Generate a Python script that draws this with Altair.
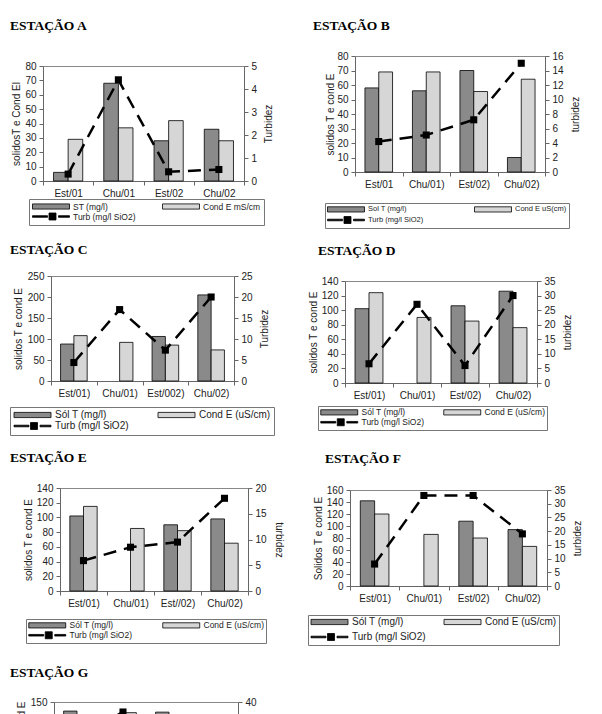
import altair as alt
import pandas as pd

# ---------------- data ----------------
CATS_A = ["Est/01", "Chu/01", "Est/02", "Chu/02"]
ST_A = [6, 68, 28, 36]
COND_A = [29, 37, 42, 28]
TURB_A = [0.3, 4.4, 0.4, 0.5]
LEG_A = ["ST (mg/l)", "Cond E mS/cm", "Turb (mg/l SiO2)"]

CATS_B = ["Est/01", "Chu/01)", "Est/02)", "Chu/02)"]
ST_B = [58, 56, 70, 10]
COND_B = [69, 69, 55.5, 64]
TURB_B = [4.2, 5.1, 7.2, 15]
LEG_B = ["Sol T (mg/l)", "Cond E uS(cm)", "Turb (mg/l SiO2)"]

CATS_C = ["Est/01)", "Chu/01)", "Est/002)", "Chu/02)"]
ST_C = [88, None, 106, 205]
COND_C = [108, 92, 85.5, 74]
TURB_C = [4.4, 17, 7.35, 20]
LEG_C = ["Sól T (mg/l)", "Cond E (uS/cm)", "Turb  (mg/l SiO2)"]

CATS_D = ["Est/01)", "Chu/01)", "Est/02)", "Chu/02)"]
ST_D = [102, None, 106, 126]
COND_D = [124, 90, 85, 76]
TURB_D = [6.6, 27, 6, 30]
LEG_D = ["Sól T (mg/l)", "Cond E (uS/cm)", "Turb (mg/l SiO2)"]

CATS_E = ["Est/01)", "Chu/01)", "Est//02)", "Chu/02)"]
ST_E = [102, None, 90, 98]
COND_E = [115, 85, 82, 65]
TURB_E = [5.9, 8.5, 9.5, 18]
LEG_E = ["Sól T (mg/l)", "Cond E (uS/cm)", "Turb (mg/l SiO2)"]

CATS_F = ["Est/01)", "Chu/01)", "Est/02)", "Chu/02)"]
ST_F = [142, None, 108, 94]
COND_F = [120, 86, 80, 66]
TURB_F = [8, 33, 33, 19]
LEG_F = ["Sól T (mg/l)", "Cond E (uS/cm)", "Turb (mg/l SiO2)"]

CATS_G = ["Est/01)", "Chu/01)", "Est/02)", "Chu/02)"]
ST_G = [133, None, 131, 100]
COND_G = [110, 130, 95, 85]
TURB_G = [22, 35, 25, 15]
LEG_G = ["Sól T (mg/l)", "Cond E (uS/cm)", "Turb (mg/l SiO2)"]

# ---------------- styles ----------------
ST_COLOR = "#8a8a8a"
COND_COLOR = "#d6d6d6"
FONT = "Liberation Sans"
SP_DATA = pd.DataFrame({"z": [0]})


def sym_paths(s):
    """legend swatch (37 px wide) and line symbol, in units of the symbol radius"""
    r = s / 2.0
    x0 = -r
    u = lambda v: f"{v / r:.3f}"
    bar = f"M{u(x0)},{u(-2.6)}H{u(x0 + 37)}V{u(2.6)}H{u(x0)}Z"
    ln = (f"M{u(x0)},{u(-0.8)}H{u(x0 + 15)}V{u(0.8)}H{u(x0)}Z"
          f"M{u(x0 + 16.5)},{u(-3.5)}H{u(x0 + 23.5)}V{u(3.5)}H{u(x0 + 16.5)}Z"
          f"M{u(x0 + 26)},{u(-0.8)}H{u(x0 + 37)}V{u(0.8)}H{u(x0 + 26)}Z")
    return bar, ln


def indep(ch):
    return ch.resolve_scale(fill="independent", xOffset="independent").resolve_legend(
        fill="independent")


def spacer(w, h):
    return alt.Chart(SP_DATA).mark_point(size=0, filled=True, strokeWidth=0, opacity=0).encode(
        x=alt.X("z:Q", axis=None, scale=alt.Scale(domain=[0, 1])),
        y=alt.Y("z:Q", axis=None, scale=alt.Scale(domain=[0, 1])),
    ).properties(width=w, height=h,
                 view=alt.ViewBackground(stroke="transparent", strokeWidth=0))


def panel(name, cats, st, cond, turb, labels, ytitle, y2title,
          ymax, ystep, y2max, y2step, lay):
    s1, s2, s3 = labels
    bars = pd.DataFrame({
        "cat": cats + cats,
        "serie": [s1] * len(cats) + [s2] * len(cats),
        "v": [float("nan") if x is None else x for x in st] + cond,
    })
    line = pd.DataFrame({"cat": cats, "turb": turb, "serie": [s3] * len(cats)})

    s = lay.get("s", 8)
    bar_path, line_path = sym_paths(s)
    fill_scale = alt.Scale(domain=[s1, s2, s3], range=[ST_COLOR, COND_COLOR, "black"])
    legend = alt.Legend(
        title=None, orient="none", legendX=lay["lx"], legendY=lay["ly"],
        columns=2, direction="horizontal",
        strokeColor="#777", fillColor="white", padding=lay.get("pad", 3),
        symbolType=alt.ExprRef(expr=f"datum.value == '{s3}' ? '{line_path}' : '{bar_path}'"),
        symbolSize=s * s, symbolStrokeColor="black", symbolStrokeWidth=0.8,
        symbolOpacity=1,
        labelFont=FONT, labelFontSize=lay["lfs"], labelColor="#222",
        labelOffset=40 - s, columnPadding=lay["cpad"], rowPadding=lay.get("rpad", 0),
        labelLimit=300,
    )

    xenc = alt.X(
        "cat:N", sort=cats,
        scale=alt.Scale(paddingInner=0, paddingOuter=0),
        axis=alt.Axis(title=None, labelAngle=0, tickBand="extent", tickSize=4,
                      labelPadding=3, labelFontSize=10, labelFont=FONT),
    )
    yaxis = alt.Axis(values=list(range(0, ymax + 1, ystep)), title=ytitle,
                     tickSize=4, labelPadding=3, titlePadding=lay.get("tp", 4),
                     titleFontSize=10, labelFontSize=10)
    ang = lay.get("ang", 270)
    y2axis = alt.Axis(orient="right", values=list(range(0, y2max + 1, y2step)),
                      title=y2title, titleAngle=ang,
                      titleBaseline="top" if ang == 270 else "bottom",
                      tickSize=4, labelPadding=3, titlePadding=lay.get("tp2", 7),
                      titleFontSize=10, labelFontSize=10)

    b = alt.Chart(bars).mark_bar(stroke="black", strokeWidth=0.8).encode(
        x=xenc,
        xOffset=alt.XOffset("serie:N", sort=[s1, s2],
                            scale=alt.Scale(paddingOuter=0.72, paddingInner=0)),
        y=alt.Y("v:Q", scale=alt.Scale(domain=[0, ymax], nice=False), axis=yaxis),
        fill=alt.Fill("serie:N", scale=fill_scale, legend=legend),
    )
    y2 = alt.Y("turb:Q", scale=alt.Scale(domain=[0, y2max], nice=False), axis=y2axis)
    ln = alt.Chart(line).mark_line(color="black", strokeWidth=2.5,
                                   strokeDash=[13, 8]).encode(x=xenc, y=y2)
    pts = alt.Chart(line).mark_point(shape="square", filled=True, size=50,
                                     opacity=1, strokeWidth=0).encode(
        x=xenc, y=y2,
        fill=alt.Fill("serie:N", scale=fill_scale, legend=legend),
    )
    p = alt.layer(b, alt.layer(ln, pts)).resolve_scale(y="independent").properties(
        width=lay["w"], height=lay["h"],
        title=alt.TitleParams(
            text=name, anchor="start", frame="group", dx=lay["dx"], offset=lay["off"],
            font="Liberation Serif", fontSize=13.5, fontWeight="bold", color="black",
        ),
    )
    # spacer in front: its width sets the horizontal place, its height the room below
    return indep(alt.hconcat(spacer(lay["sw"], lay["sh"]), p, spacing=0))


pA = panel("ESTAÇÃO A", CATS_A, ST_A, COND_A, TURB_A, LEG_A,
           "solidosT e Cond El", "Turbidez", 80, 10, 5, 1,
           dict(w=201, h=115, dx=-33, off=29, lx=-14, ly=133, lfs=8.5, cpad=24,
                pad=3, tp=3, sw=1, sh=176))
pC = panel("ESTAÇÃO C", CATS_C, ST_C, COND_C, TURB_C, LEG_C,
           "solidos T e cond E", "Turbidez", 250, 50, 25, 5,
           dict(w=183, h=105, dx=-41, off=14.5, lx=-41, ly=131, lfs=10, cpad=24,
                pad=3, tp=4, sw=1, sh=174))
pE = panel("ESTAÇÃO E", CATS_E, ST_E, COND_E, TURB_E, LEG_E,
           "solidos T e cond E", "turbidez", 140, 20, 20, 5,
           dict(w=188, h=103, dx=-50, off=18.5, lx=-34, ly=131, lfs=8.5, cpad=28,
                s=7, pad=2, ang=90, tp=3, sw=1, sh=176.5))
pG = panel("ESTAÇÃO G", CATS_G, ST_G, COND_G, TURB_G, LEG_G,
           "solidos T e cond E", "turbidez", 150, 50, 40, 10,
           dict(w=184, h=80, dx=-44, off=18, lx=-30, ly=110, lfs=8.5, cpad=27,
                s=7, pad=2, tp=4, sw=1, sh=150))

pB = panel("ESTAÇÃO B", CATS_B, ST_B, COND_B, TURB_B, LEG_B,
           "solidos T e cond E", "turbidez", 80, 10, 16, 2,
           dict(w=190, h=116, dx=-42, off=19, lx=-30, ly=147, lfs=7.5, cpad=48,
                s=7, pad=2, tp=1, sw=13, sh=186.5))
pD = panel("ESTAÇÃO D", CATS_D, ST_D, COND_D, TURB_D, LEG_D,
           "solidos T e cond E", "turbidez", 140, 20, 35, 5,
           dict(w=192, h=102, dx=-27, off=18.7, lx=-27, ly=125, lfs=8.5, cpad=17,
                s=7, pad=2, tp=3, sw=8, sh=169.5))
pF = panel("ESTAÇÃO F", CATS_F, ST_F, COND_F, TURB_F, LEG_F,
           "Solidos T e cond E", "turbidez", 160, 20, 35, 5,
           dict(w=197, h=96, dx=-25, off=20, lx=-42, ly=125, lfs=10, cpad=16,
                pad=2, rpad=4, tp=3, sw=8, sh=150))

colL = indep(alt.vconcat(spacer(1, 1), pA, pC, pE, pG, spacing=0))
colR = indep(alt.vconcat(spacer(1, 1), pB, pD, pF, spacing=0))

chart = indep(alt.hconcat(colL, colR, spacing=15)).properties(
    padding={"left": 0, "top": 9, "right": 0, "bottom": 0},
    background="white",
).configure_view(stroke="#888", strokeWidth=1).configure_axis(
    domainColor="#666", tickColor="#666", labelColor="#222", titleColor="#222",
    labelFont=FONT, titleFont=FONT, titleFontWeight="normal", grid=False,
).configure_legend(labelFont=FONT)

chart.save("out.html", embed_options={"renderer": "svg", "actions": False})
